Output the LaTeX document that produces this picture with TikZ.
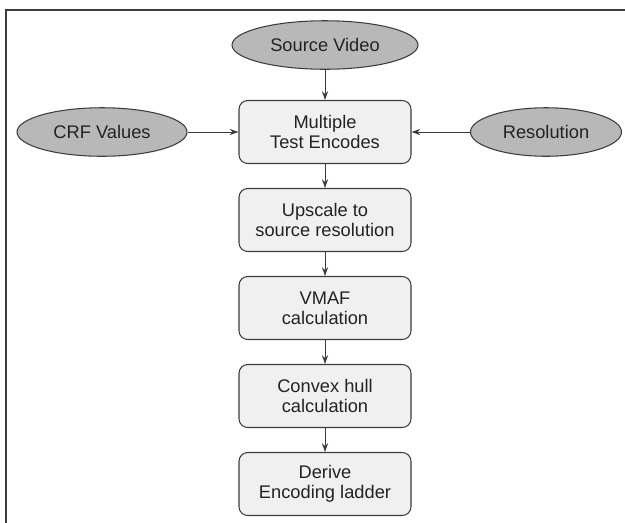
\documentclass[tikz,border=0pt]{standalone}
\usepackage{fontspec}
\setmainfont{Liberation Sans}
\usepackage{tikz}
\usetikzlibrary{arrows.meta, shapes.geometric, positioning}
\usepackage{xcolor}
\definecolor{inputgray}{RGB}{184, 184, 184}
\definecolor{stepgray}{RGB}{240, 240, 240}
\definecolor{linegray}{RGB}{60, 60, 60}
\definecolor{textgray}{RGB}{35, 35, 35}

\begin{document}
\begin{tikzpicture}[node distance=1.76cm,
    every node/.style={font=\fontsize{10.4}{11.6}\selectfont, text=textgray, align=center},
    stepbox/.style={draw=linegray, line width=0.6pt, rectangle, fill=stepgray, rounded corners=5pt, minimum width=3.44cm, minimum height=1.26cm, inner sep=0pt},
    inputoval/.style={draw=linegray, line width=0.6pt, ellipse, fill=inputgray, minimum height=0.97cm, inner sep=0pt},
    flow/.style={->, >={Stealth[length=5pt, width=3.5pt]}, line width=0.5pt, draw=linegray}]
    \useasboundingbox (0,0) rectangle (12.5,-10.44);
    \draw[line width=0.9pt, draw=linegray] (12.9,-10.8) -- (0.12,-10.8) -- (0.12,-0.2) -- (12.9,-0.2);
    \node[stepbox] (encodes) at (6.5,-2.64) {Multiple\\Test Encodes};
    \node[inputoval, minimum width=3.72cm, above of=encodes, yshift=-0.02cm] (source) {Source Video};
    \node[inputoval, minimum width=3.4cm, left of=encodes, xshift=-2.7cm] (crf) {CRF Values};
    \node[inputoval, minimum width=3.02cm, right of=encodes, xshift=2.66cm] (res) {Resolution};
    \node[stepbox, below of=encodes] (upscale) {Upscale to\\source resolution};
    \node[stepbox, below of=upscale] (vmaf) {VMAF\\calculation};
    \node[stepbox, below of=vmaf] (hull) {Convex hull\\calculation};
    \node[stepbox, below of=hull] (ladder) {Derive\\Encoding ladder};
    \draw[flow] (source) -- (encodes);
    \draw[flow] (crf) -- (encodes);
    \draw[flow] (res) -- (encodes);
    \draw[flow] (encodes) -- (upscale);
    \draw[flow] (upscale) -- (vmaf);
    \draw[flow] (vmaf) -- (hull);
    \draw[flow] (hull) -- (ladder);
\end{tikzpicture}
\end{document}
